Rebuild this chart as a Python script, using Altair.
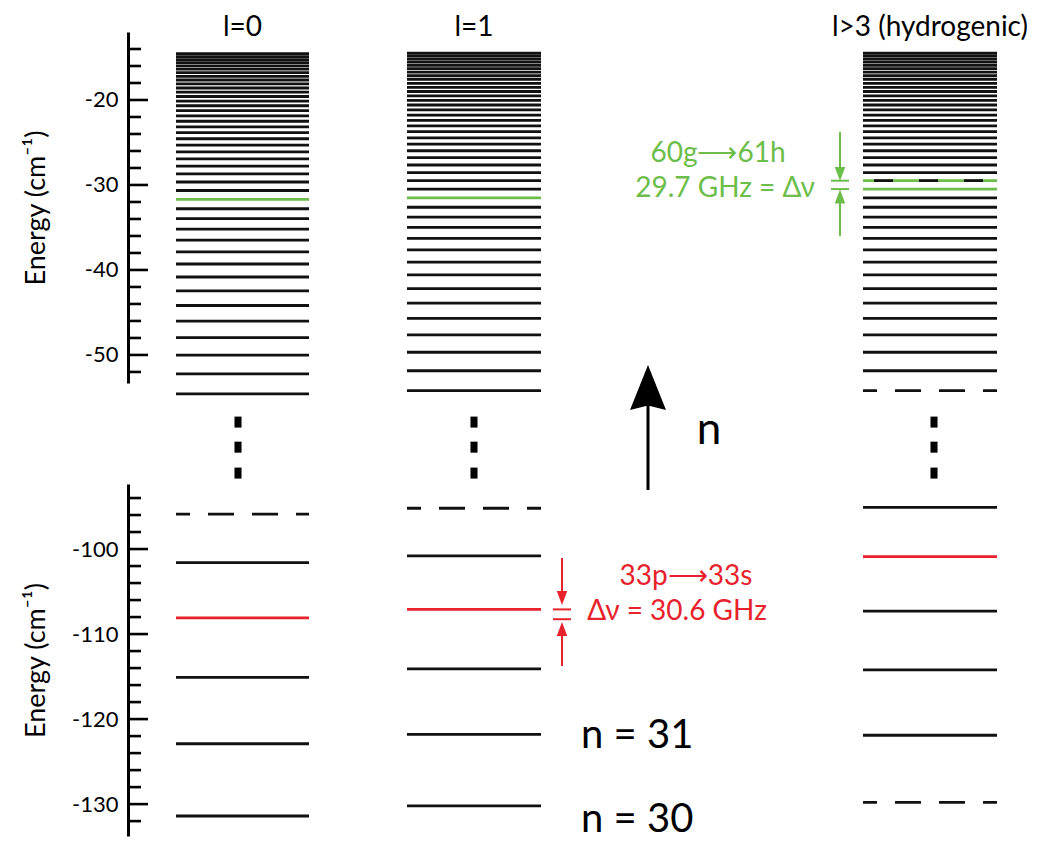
import altair as alt
import pandas as pd

# ---------------- data (energies in cm^-1) ----------------
COLUMN_KEYS = ["l0", "l1", "hyd"]
COLUMN_TITLES = ["l=0", "l=1", "l>3 (hydrogenic)"]

E_L0_UPPER = [-54.58, -52.22, -50.02, -47.95, -46.01, -44.18, -42.46, -40.83, -39.30, -37.86,
              -36.49, -35.19, -33.97, -32.80, -31.70, -30.65, -29.65, -28.70, -27.79, -26.93,
              -26.10, -25.31, -24.56, -23.84, -23.16, -22.50, -21.87, -21.26, -20.68, -20.13,
              -19.59, -19.08, -18.59, -18.11, -17.65, -17.22, -16.79, -16.38, -15.99, -15.61,
              -15.25, -14.89, -14.55]
E_L1_UPPER = [-54.19, -51.86, -49.68, -47.63, -45.70, -43.89, -42.19, -40.58, -39.07, -37.63,
              -36.28, -34.99, -33.78, -32.62, -31.52, -30.48, -29.49, -28.55, -27.65, -26.79,
              -25.97, -25.19, -24.45, -23.73, -23.05, -22.40, -21.77, -21.17, -20.59, -20.04,
              -19.51, -19.00, -18.51, -18.04, -17.58, -17.15, -16.73, -16.32, -15.93, -15.55,
              -15.19, -14.84, -14.50]
E_HYD_UPPER = [-54.19, -51.86, -49.68, -47.63, -45.70, -43.89, -42.19, -40.58, -39.07, -37.63,
               -36.28, -34.99, -33.78, -32.62, -31.52, -30.48, -29.49, -28.55, -27.65, -26.79,
               -25.97, -25.19, -24.45, -23.73, -23.05, -22.40, -21.77, -21.17, -20.59, -20.04,
               -19.51, -19.00, -18.51, -18.04, -17.58, -17.15, -16.73, -16.32, -15.93, -15.55,
               -15.19, -14.84, -14.50]

E_L0_LOWER = [-131.4, -122.9, -115.1, -108.1, -101.6, -95.9]
E_L1_LOWER = [-130.2, -121.8, -114.1, -107.1, -100.8, -95.2]
E_HYD_LOWER = [-129.8, -121.9, -114.2, -107.3, -100.9, -95.1]

GREEN_LEVELS = {"l0": [-31.70], "l1": [-31.52], "hyd": [-30.48]}
GREEN_BLACK_DASHED_LEVELS = {"hyd": [-29.49]}
RED_LEVELS = {"l0": [-108.1], "l1": [-107.1], "hyd": [-100.9]}
DASHED_LEVELS = {"l0": [-95.9], "l1": [-95.2], "hyd": [-54.19, -129.8]}

UPPER_MAJOR_TICKS = [-50, -40, -30, -20]
UPPER_MINOR_TICKS = [-52, -48, -46, -44, -42, -38, -36, -34, -32, -28, -26, -24, -22, -18, -16, -14]
LOWER_MAJOR_TICKS = [-130, -120, -110, -100]
LOWER_MINOR_TICKS = [-132, -128, -126, -124, -122, -118, -116, -114, -112, -108, -106, -104,
                     -102, -98, -96, -94]

GREEN_LABELS = ["60g\u27f661h", "29.7 GHz = \u0394\u03bd"]
RED_LABELS = ["33p\u27f633s", "\u0394\u03bd = 30.6 GHz"]
N_LABELS = ["n = 31", "n = 30"]
AXIS_TITLE = "Energy (cm\u207b\u00b9)"

# ---------------- layout / style ----------------
PLOT_W = 900
UPPER_H, LOWER_H = 351, 352
UPPER_DOMAIN = [-53.3, -12.0]
LOWER_DOMAIN = [-133.75, -92.35]
COL_SPAN = {"l0": (48, 181), "l1": (279, 413), "hyd": (735, 869)}
DOT_X = [110, 346, 806]
DOT_E = [-57.9, -60.85, -63.9]
BLACK, RED, GREEN = "#111111", "#e8222b", "#6cbd4a"
FONT = "Lato"
LW = 2.8

one = pd.DataFrame({"k": [0]})


def level_frame(src):
    rows = []
    for key in COLUMN_KEYS:
        x0, x1 = COL_SPAN[key]
        for e in src[key]:
            color = BLACK
            if e in GREEN_LEVELS.get(key, []) or e in GREEN_BLACK_DASHED_LEVELS.get(key, []):
                color = GREEN
            if e in RED_LEVELS.get(key, []):
                color = RED
            style = "dashed" if e in DASHED_LEVELS.get(key, []) else "solid"
            overlay = e in GREEN_BLACK_DASHED_LEVELS.get(key, [])
            rows.append(dict(col=key, E=e, x0=x0, x1=x1, color=color, style=style, overlay=overlay))
    return pd.DataFrame(rows)


def yenc(domain, height, major):
    return alt.Y(
        "E:Q",
        scale=alt.Scale(domain=domain, nice=False, zero=False),
        axis=alt.Axis(values=major, ticks=False, tickSize=0, domainColor="black", domainWidth=3,
                      labelFont=FONT, labelFontSize=22, labelColor="black", labelPadding=10,
                      labelExpr="'-' + abs(datum.value)", grid=False,
                      title=AXIS_TITLE, titleFont=FONT, titleFontSize=27,
                      titleFontWeight="normal", titleColor="black", titleX=-84, titleY=height / 2,
                      titleAngle=-90, titleBaseline="alphabetic", titleAlign="center"),
    )


XS = alt.Scale(domain=[0, PLOT_W], nice=False, zero=False)


def panel(src, domain, height, major, minor):
    df = level_frame(src)
    y = yenc(domain, height, major)
    levels = alt.Chart(df).mark_rule(strokeWidth=LW, strokeDashOffset=12).encode(
        x=alt.X("x0:Q", scale=XS, axis=None), x2="x1:Q", y=y,
        color=alt.Color("color:N", scale=None),
        strokeDash=alt.StrokeDash("style:N", scale=alt.Scale(domain=["solid", "dashed"],
                                                             range=[[1, 0], [26, 18]]), legend=None),
    )
    overlay = alt.Chart(df).transform_filter("datum.overlay").mark_rule(
        strokeWidth=LW, color=BLACK, strokeDash=[19, 26], strokeDashOffset=34).encode(
        x=alt.X("x0:Q", scale=XS, axis=None), x2="x1:Q", y=y)
    tmaj = alt.Chart(pd.DataFrame({"E": major})).mark_rule(strokeWidth=2.6, color="black").encode(
        y=y, x=alt.value(0), x2=alt.value(20))
    tmin = alt.Chart(pd.DataFrame({"E": minor})).mark_rule(strokeWidth=2.6, color="black").encode(
        y=y, x=alt.value(0), x2=alt.value(13))
    return [levels, overlay, tmaj, tmin], y


def text(s, x, y, size, color, align="center"):
    return alt.Chart(one).mark_text(text=s, font=FONT, fontSize=size, color=color, align=align,
                                    baseline="alphabetic").encode(x=alt.value(x), y=alt.value(y))


def vrule(x, y1, y2, color, w):
    return alt.Chart(one).mark_rule(color=color, strokeWidth=w).encode(
        x=alt.value(x), y=alt.value(y1), y2=alt.value(y2))


def hrule(x1, x2, y, color, w):
    return alt.Chart(one).mark_rule(color=color, strokeWidth=w).encode(
        x=alt.value(x1), x2=alt.value(x2), y=alt.value(y))


def head(x, y, up, color, size=196):
    shape = "M0,-1L0.75,1L-0.75,1Z" if up else "M0,1L-0.75,-1L0.75,-1Z"
    return alt.Chart(one).mark_point(shape=shape, filled=True, size=size, color=color,
                                     opacity=1, strokeWidth=0).encode(x=alt.value(x), y=alt.value(y))


# ---------------- upper panel ----------------
up_layers, y_up = panel({"l0": E_L0_UPPER, "l1": E_L1_UPPER, "hyd": E_HYD_UPPER},
                        UPPER_DOMAIN, UPPER_H, UPPER_MAJOR_TICKS, UPPER_MINOR_TICKS)

titles_df = pd.DataFrame({"title": COLUMN_TITLES,
                          "cx": [(COL_SPAN[k][0] + COL_SPAN[k][1]) / 2 for k in COLUMN_KEYS]})
titles = alt.Chart(titles_df).mark_text(font=FONT, fontSize=28, color="black",
                                        baseline="alphabetic").encode(
    x=alt.X("cx:Q", scale=XS, axis=None), y=alt.value(4), text="title:N")

dots_df = pd.DataFrame([{"cx": x, "E": e} for x in DOT_X for e in DOT_E])
dots = alt.Chart(dots_df).mark_point(shape="M-0.64,-1L0.64,-1L0.64,1L-0.64,1Z", filled=True,
                                     size=121, color="black", opacity=1, strokeWidth=0).encode(
    x=alt.X("cx:Q", scale=XS, axis=None), y=y_up)

big_arrow = [
    vrule(520, 372, 458, "black", 3),
    alt.Chart(one).mark_point(shape="M0,-1L0.8,1L0,0.8L-0.8,1Z", filled=True, size=2025,
                              color="black", opacity=1, strokeWidth=0).encode(
        x=alt.value(520), y=alt.value(355.5)),
    text("n", 581, 412, 44, "black"),
]

green_anno = [
    text(GREEN_LABELS[0], 590, 130, 28, GREEN),
    text(GREEN_LABELS[1], 597, 165, 28, GREEN),
    vrule(712, 100, 138, GREEN, 2),
    head(712, 142, False, GREEN),
    hrule(703, 721, 148.7, GREEN, 2),
    hrule(703, 721, 157.1, GREEN, 2),
    head(712, 164.5, True, GREEN),
    vrule(712, 169, 204, GREEN, 2),
]

upper = alt.layer(*up_layers, titles, dots, *big_arrow, *green_anno).properties(
    width=PLOT_W, height=UPPER_H)

# ---------------- lower panel ----------------
lo_layers, y_lo = panel({"l0": E_L0_LOWER, "l1": E_L1_LOWER, "hyd": E_HYD_LOWER},
                        LOWER_DOMAIN, LOWER_H, LOWER_MAJOR_TICKS, LOWER_MINOR_TICKS)

red_anno = [
    text(RED_LABELS[0], 558, 101, 28, RED),
    text(RED_LABELS[1], 549, 136, 28, RED),
    vrule(434, 74, 108, RED, 2),
    head(434, 114, False, RED),
    hrule(425, 443, 125.4, RED, 2),
    hrule(425, 443, 135.2, RED, 2),
    head(434, 145, True, RED),
    vrule(434, 151, 182, RED, 2),
]
n_labels = [
    text(N_LABELS[0], 453, 264, 40, "black", "left"),
    text(N_LABELS[1], 453, 348, 40, "black", "left"),
]

lower = alt.layer(*lo_layers, *red_anno, *n_labels).properties(width=PLOT_W, height=LOWER_H)

chart = alt.vconcat(upper, lower, spacing=101, bounds="flush").properties(
    padding={"left": 14, "top": 6, "right": 0, "bottom": 0}
).configure_view(strokeWidth=0)

chart.save("out.html", embed_options={"renderer": "svg", "actions": False})
